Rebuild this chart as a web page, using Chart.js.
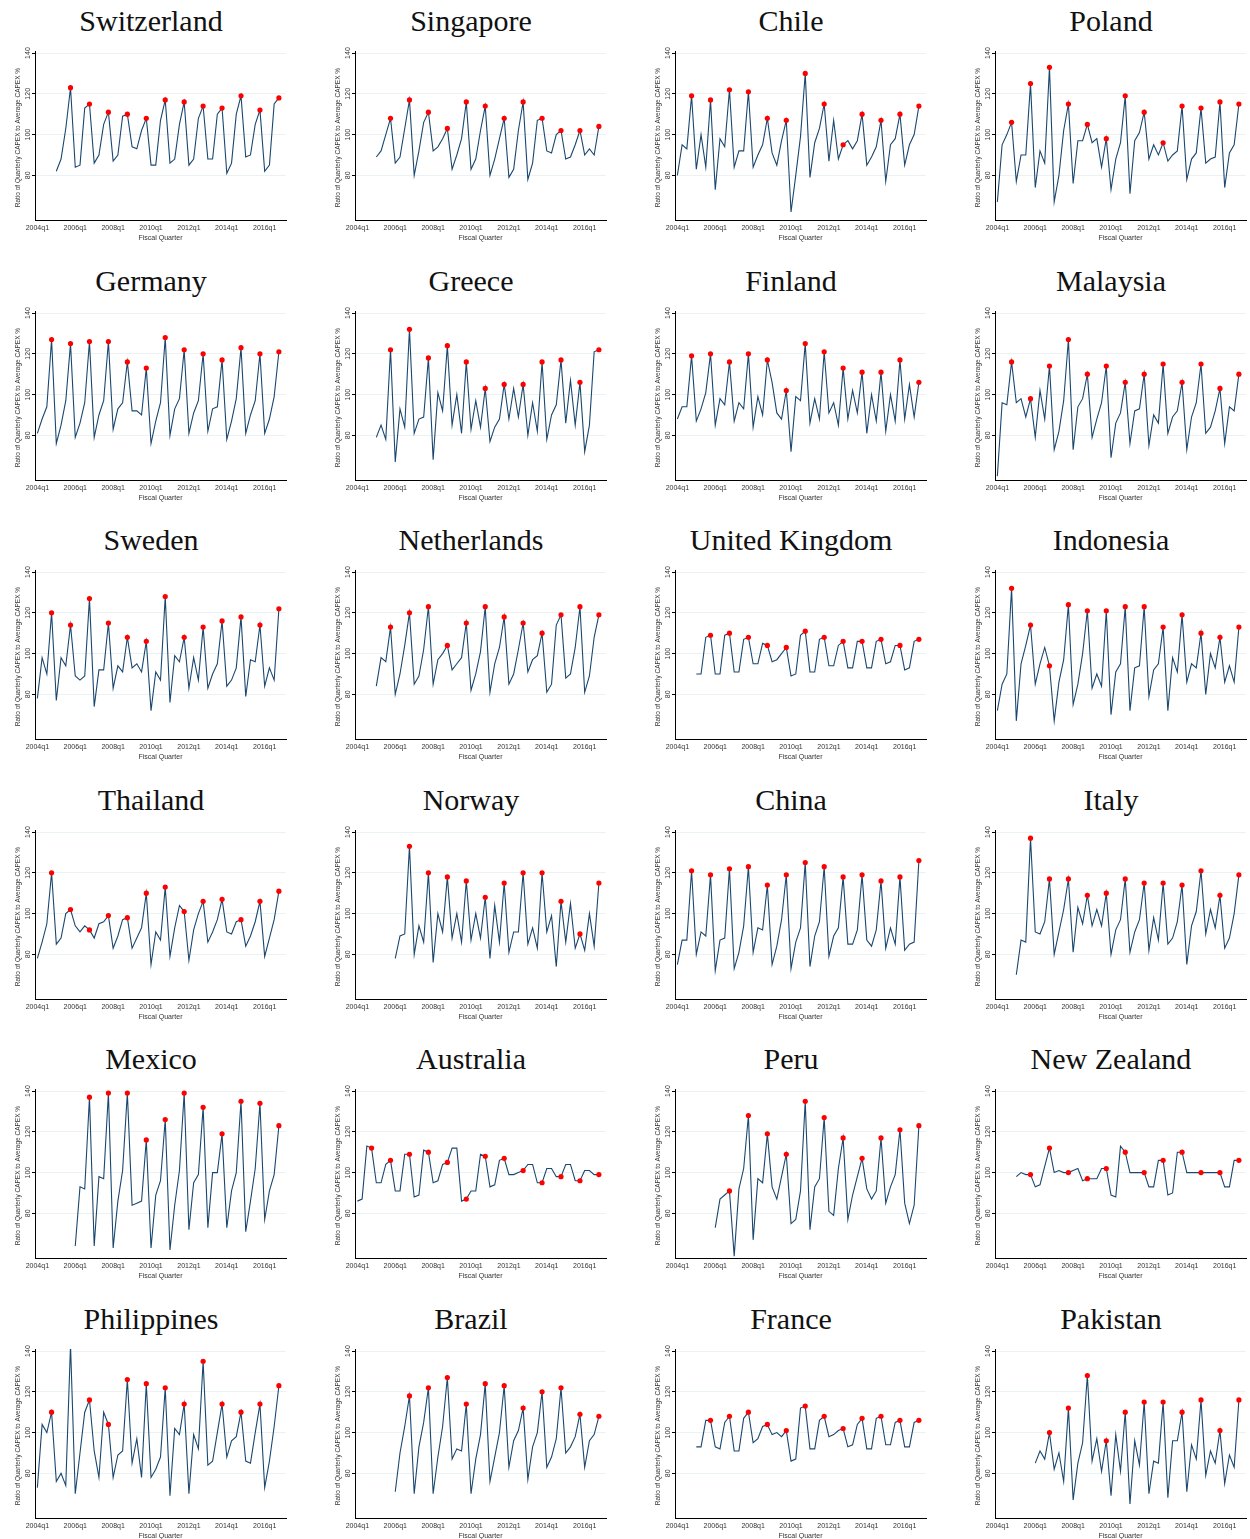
<!DOCTYPE html>
<html>
<head>
<meta charset="utf-8">
<script src="https://cdn.jsdelivr.net/npm/chart.js@4.4.1/dist/chart.umd.min.js"></script>
<style>
body { margin: 0; background: #fff; }
#grid { display: grid; grid-template-columns: repeat(4, 320px); width: 1280px; }
.panel { width: 312px; height: 259.5px; }
.panel h2 { margin: 0; height: 47px; padding-top: 4px; box-sizing: border-box; line-height: 40px; text-align: center; font: 30px "Liberation Serif", serif; color: #111; padding-right: 10px; }
.panel canvas { display: block; }
</style>
</head>
<body>
<div id="grid"></div>
<script>
// quarter labels, first value index 0 = 2004q1
var tickQuarters = [0, 8, 16, 24, 32, 40, 48];
var tickLabels = ["2004q1", "2006q1", "2008q1", "2010q1", "2012q1", "2014q1", "2016q1"];
var yTicks = [80, 100, 120, 140];

// each series: [first quarter index, values...]
var switzerland = [4, 82,88,103,123, 84,85,113,115, 86,90,105,111, 87,90,109,110, 94,93,102,108, 85,85,107,117, 86,88,105,116, 85,88,108,114, 88,88,110,113, 81,86,110,119, 89,90,105,112, 82,85,115,118];
var singapore = [4, 89,92,100,108, 86,89,103,117, 80,92,106,111, 92,94,98,103, 83,90,98,116, 83,88,102,114, 80,88,98,108, 79,83,102,116, 78,86,107,108, 92,91,100,102, 88,89,95,102, 90,93,90,104];
var chile = [0, 80,95,93,119, 83,100,84,117, 73,98,94,122, 84,92,92,121, 84,90,95,108, 91,85,97,107, 62,80,99,130, 79,96,103,115, 87,107,88,95, 97,93,97,110, 85,89,94,107, 77,95,98,110, 85,95,100,114];
var poland = [0, 67,95,100,106, 77,90,90,125, 74,92,86,133, 67,80,102,115, 76,97,97,105, 96,98,84,98, 73,88,96,119, 71,97,101,111, 88,95,90,96, 87,90,92,114, 78,88,91,113, 86,88,89,116, 74,91,95,115];
var germany = [0, 81,88,94,127, 76,85,97,125, 79,86,96,126, 79,90,97,126, 83,93,96,116, 92,92,90,113, 76,87,96,128, 80,93,98,122, 81,91,97,120, 82,93,94,117, 78,87,98,123, 81,90,97,120, 81,88,99,121];
var greece = [4, 79,85,78,122, 67,93,84,132, 81,88,89,118, 68,101,92,124, 85,100,81,116, 83,97,84,103, 77,84,88,105, 88,103,89,105, 80,96,82,116, 78,90,95,117, 86,107,85,106, 72,85,121,122];
var finland = [0, 88,94,94,119, 87,93,101,120, 85,98,95,116, 87,96,93,120, 84,99,90,117, 106,91,88,102, 72,99,97,125, 86,98,88,121, 91,96,85,113, 88,102,91,111, 81,100,87,111, 82,100,87,117, 88,105,89,106];
var malaysia = [0, 60,96,95,116, 96,98,89,98, 79,102,88,114, 73,82,97,127, 73,94,98,110, 79,88,96,114, 69,86,91,106, 76,92,93,110, 75,90,86,115, 81,89,92,106, 73,89,96,115, 81,84,92,103, 76,94,92,110];
var sweden = [0, 78,98,90,120, 77,98,94,114, 89,87,89,127, 74,92,92,115, 83,94,91,108, 93,95,91,106, 72,91,87,128, 76,99,96,108, 83,98,87,113, 83,90,95,116, 84,87,93,118, 79,97,96,114, 84,93,87,122];
var netherlands = [4, 84,98,96,113, 80,90,104,120, 85,89,102,123, 85,97,100,104, 92,95,98,115, 82,90,101,123, 81,95,103,118, 85,90,102,115, 91,97,99,110, 81,85,114,119, 88,90,103,123, 81,89,108,119];
var unitedKingdom = [4, 90,90,108,109, 90,90,109,110, 91,91,107,108, 95,95,105,104, 96,97,100,103, 89,90,109,111, 91,91,107,108, 94,94,104,106, 93,93,106,106, 93,93,106,107, 95,96,104,104, 92,93,106,107];
var indonesia = [0, 72,85,90,132, 67,95,104,114, 85,95,103,94, 67,86,97,124, 75,85,100,121, 83,90,84,121, 70,91,95,123, 72,93,94,123, 79,92,95,113, 72,98,91,119, 86,95,93,110, 80,100,93,108, 86,94,86,113];
var thailand = [0, 78,86,95,120, 85,88,100,102, 94,91,94,92, 88,95,96,99, 83,89,97,98, 83,88,93,110, 75,91,87,113, 79,93,104,101, 77,92,100,106, 86,91,97,107, 91,90,96,97, 84,89,96,106, 79,88,97,111];
var norway = [8, 78,89,90,133, 80,94,86,120, 76,100,91,118, 88,100,86,116, 87,100,88,108, 78,104,86,115, 81,91,91,120, 85,93,83,120, 91,99,74,106, 86,105,83,90, 82,100,84,115];
var china = [0, 75,87,87,121, 80,91,89,119, 72,87,88,122, 73,81,94,123, 81,93,92,114, 75,84,97,119, 73,86,93,125, 74,89,96,123, 79,89,93,118, 85,85,92,119, 87,84,92,116, 83,93,85,118, 82,85,86,126];
var italy = [4, 70,87,86,137, 91,90,96,117, 80,91,102,117, 81,103,95,109, 94,102,94,110, 80,92,97,117, 81,91,97,115, 82,98,87,115, 85,88,96,114, 75,94,101,121, 90,102,93,109, 83,88,100,119];
var mexico = [8, 64,93,92,137, 64,98,97,139, 63,86,101,139, 84,85,86,116, 63,89,96,126, 62,84,101,139, 72,95,99,132, 73,100,100,119, 73,91,100,135, 71,86,102,134, 77,91,99,123];
var australia = [0, 86,87,113,112, 95,95,104,106, 91,91,109,109, 88,89,111,110, 95,96,104,105, 112,112,86,87, 91,91,109,108, 93,94,106,107, 99,99,100,101, 104,104,95,95, 102,102,98,98, 104,104,96,96, 101,101,99,99];
var peru = [8, 73,87,89,91, 59,92,102,128, 67,97,95,119, 93,87,98,109, 75,77,91,135, 72,93,97,127, 81,79,102,117, 77,89,98,107, 92,87,91,117, 85,93,99,121, 85,75,84,123];
var newZealand = [4, 98,100,99,99, 93,94,103,112, 100,101,100,100, 101,102,96,97, 97,97,102,102, 89,88,113,110, 100,100,100,100, 93,93,106,106, 89,90,110,110, 100,100,100,100, 100,100,100,100, 93,93,106,106];
var philippines = [0, 73,104,100,110, 76,80,74,143, 70,90,110,116, 91,78,110,104, 78,89,91,126, 85,97,78,124, 78,82,88,122, 69,102,99,114, 70,99,92,135, 84,86,100,114, 88,96,98,110, 86,85,100,114, 73,86,103,123];
var brazil = [8, 71,90,103,118, 70,93,105,122, 70,88,103,127, 87,92,91,114, 70,87,99,124, 76,88,100,123, 83,96,101,112, 77,93,100,120, 83,88,97,122, 90,93,98,109, 83,96,99,108];
var france = [4, 93,93,106,106, 93,92,105,108, 91,91,107,110, 95,97,103,104, 99,100,98,101, 86,87,112,113, 92,92,106,108, 98,99,101,102, 93,94,104,107, 92,92,107,108, 94,94,105,106, 93,93,105,106];
var pakistan = [8, 85,91,87,100, 82,90,76,112, 67,85,95,128, 86,97,81,96, 69,99,81,110, 65,96,84,115, 70,86,85,115, 68,96,96,110, 71,94,87,116, 79,91,85,101, 75,89,83,116];

var countries = ["Switzerland", "Singapore", "Chile", "Poland", "Germany", "Greece", "Finland", "Malaysia",
  "Sweden", "Netherlands", "United Kingdom", "Indonesia", "Thailand", "Norway", "China", "Italy",
  "Mexico", "Australia", "Peru", "New Zealand", "Philippines", "Brazil", "France", "Pakistan"];
var series = [switzerland, singapore, chile, poland, germany, greece, finland, malaysia,
  sweden, netherlands, unitedKingdom, indonesia, thailand, norway, china, italy,
  mexico, australia, peru, newZealand, philippines, brazil, france, pakistan];

// draws the rotated y tick labels and y title like the original
var yDeco = {
  id: 'yDeco',
  afterDraw(chart) {
    var ctx = chart.ctx, y = chart.scales.y, area = chart.chartArea;
    ctx.save();
    ctx.fillStyle = '#333';
    ctx.font = '7px "Liberation Sans", Arial';
    ctx.textAlign = 'center';
    ctx.textBaseline = 'bottom';
    yTicks.forEach(function (v) {
      ctx.save();
      ctx.translate(area.left - 3, y.getPixelForValue(v));
      ctx.rotate(-Math.PI / 2);
      ctx.fillText(String(v), 0, 0);
      ctx.restore();
    });
    ctx.translate(area.left - 14, (area.top + area.bottom) / 2 + 2);
    ctx.rotate(-Math.PI / 2);
    ctx.font = '6.5px "Liberation Sans", Arial';
    ctx.fillText('Ratio of Quarterly CAPEX to Average CAPEX %', 0, 0);
    ctx.restore();
  }
};

var grid = document.getElementById('grid');
countries.forEach(function (name, k) {
  var div = document.createElement('div');
  div.className = 'panel';
  div.innerHTML = '<h2>' + name + '</h2><canvas width="312" height="205"></canvas>';
  grid.appendChild(div);

  var s = series[k], start = s[0];
  var line = [], q4 = [];
  for (var i = 1; i < s.length; i++) {
    var q = start + i - 1;
    line.push({ x: q, y: s[i] });
    if (q % 4 == 3) q4.push({ x: q, y: s[i] });
  }

  new Chart(div.querySelector('canvas'), {
    type: 'line',
    data: {
      datasets: [
        { data: q4, showLine: false, pointRadius: 2.6, pointBackgroundColor: '#ff0000', pointBorderWidth: 0 },
        { data: line, borderColor: '#1a476f', borderWidth: 1.1, pointRadius: 0, tension: 0 }
      ]
    },
    options: {
      responsive: false,
      animation: false,
      layout: { padding: { left: 21, top: 2, right: 26, bottom: 10 } },
      plugins: { legend: { display: false }, tooltip: { enabled: false } },
      scales: {
        x: {
          type: 'linear', min: -0.5, max: 52.5,
          afterBuildTicks: function (sc) { sc.ticks = tickQuarters.map(function (v) { return { value: v }; }); },
          ticks: {
            autoSkip: false, maxRotation: 0, color: '#333', padding: 1,
            font: { size: 7, family: '"Liberation Sans", Arial' },
            callback: function (v) { return tickLabels[tickQuarters.indexOf(v)]; }
          },
          grid: { display: false, drawTicks: true, tickLength: 3, tickColor: '#000' },
          border: { color: '#000', width: 1 },
          title: { display: true, text: 'Fiscal Quarter', color: '#333', padding: 0, font: { size: 7, family: '"Liberation Sans", Arial' } }
        },
        y: {
          min: 58, max: 141,
          afterBuildTicks: function (sc) { sc.ticks = yTicks.map(function (v) { return { value: v }; }); },
          afterFit: function (sc) { sc.width = 14; },
          ticks: { display: false },
          grid: { color: '#eaf2f3', lineWidth: 1, tickLength: 3, tickColor: '#000' },
          border: { color: '#000', width: 1 }
        }
      }
    },
    plugins: [yDeco]
  });
});
</script>
</body>
</html>
